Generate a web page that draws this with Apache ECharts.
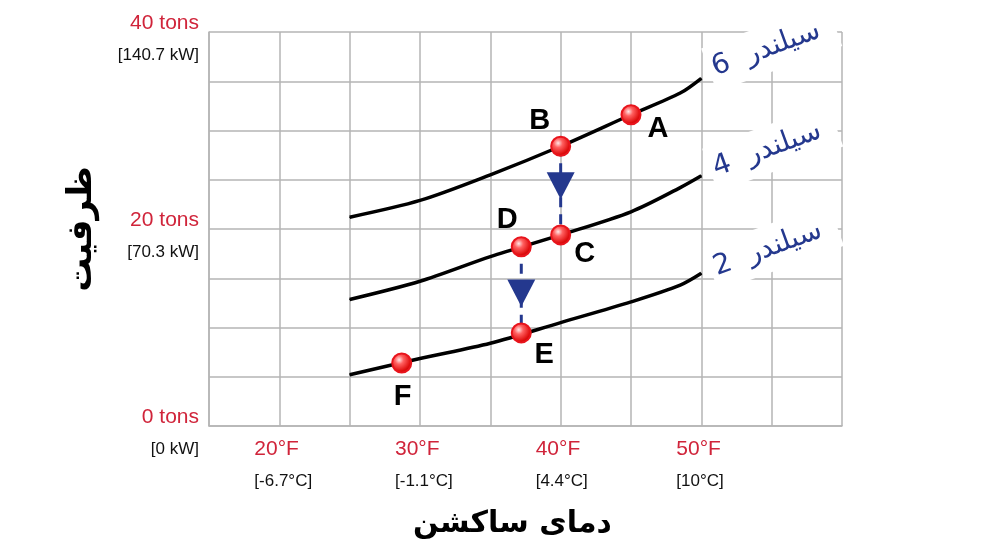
<!DOCTYPE html>
<html>
<head>
<meta charset="utf-8">
<script src="https://cdn.jsdelivr.net/npm/echarts@6/dist/echarts.min.js"></script>
<style>
html,body{margin:0;padding:0;background:#fff;}
#chart{width:1007px;height:560px;}
</style>
</head>
<body>
<div id="chart"></div>
<script>
// ---- data ----
const xTicksF = [20, 30, 40, 50];
const xTicksC = ['[-6.7°C]', '[-1.1°C]', '[4.4°C]', '[10°C]'];
const yTicksTons = [0, 20, 40];
const yTicksKW = ['[0 kW]', '[70.3 kW]', '[140.7 kW]'];

const temps = [25, 30, 35, 40, 45, 48.5, 50];
const cap6 = [21.2, 22.9, 25.5, 28.4, 31.6, 33.8, 35.3];
const cap4 = [12.85, 14.7, 17.2, 19.4, 21.75, 24.2, 25.4];
const cap2 = [5.2, 6.85, 8.4, 10.5, 12.6, 14.3, 15.5];
const cylLabels = ['6  سیلندر', '4  سیلندر', '2  سیلندر'];

const pointNames = ['A', 'B', 'C', 'D', 'E', 'F'];
const pointTemp = [45, 40, 40, 37.2, 37.2, 28.7];
const pointCap = [31.6, 28.4, 19.4, 18.2, 9.45, 6.4];

const arrowFrom = ['B', 'D'];
const arrowTo = ['C', 'E'];
const arrowHeadCap = [24.4, 13.5];

const xTitle = 'دمای ساکشن';
const yTitle = 'ظرفیت';

// ---- styles ----
const RED = '#d0243a';
const BLUE = '#24388e';
const GRID = '#b5b5b5';
const labelOffsets = {A: [27, 14], B: [-21, -25], C: [24, 19], D: [-14, -27], E: [23, 22], F: [1, 34]};
const cylOffsets = [[2, -8], [2, -5], [2, -3]];

function curveSeries(caps, idx) {
  const last = temps.length - 1;
  const data = temps.map((t, i) => {
    const item = {value: [t, caps[i]]};
    if (i === last) {
      item.label = {
        show: true,
        formatter: cylLabels[idx],
        position: 'right',
        distance: 8,
        rotate: 20,
        align: 'left',
        verticalAlign: 'middle',
        offset: cylOffsets[idx],
        color: BLUE,
        fontFamily: 'DejaVu Sans',
        fontSize: 28,
        backgroundColor: '#fff',
        padding: [9, 16, 9, 4]
      };
    }
    return item;
  });
  return {
    type: 'line', data: data, smooth: 0.3, z: 3,
    symbol: 'circle', symbolSize: 1, showSymbol: true, showAllSymbol: true,
    itemStyle: {color: '#000'},
    lineStyle: {color: '#000', width: 3.5}
  };
}

const idx = n => pointNames.indexOf(n);
const arrowSeries = [];
arrowFrom.forEach((f, i) => {
  const a = idx(f), b = idx(arrowTo[i]);
  arrowSeries.push({
    type: 'line', z: 4, symbol: 'none',
    data: [[pointTemp[a], pointCap[a]], [pointTemp[b], pointCap[b]]],
    lineStyle: {color: BLUE, width: 3, type: [10, 7]}
  });
});
arrowSeries.push({
  type: 'scatter', z: 5,
  symbol: 'triangle', symbolRotate: 180, symbolSize: [28, 27],
  itemStyle: {color: BLUE, opacity: 1},
  data: arrowFrom.map((f, i) => [pointTemp[idx(f)], arrowHeadCap[i]])
});

const markerColor = {
  type: 'radial', x: 0.38, y: 0.35, r: 0.7,
  colorStops: [
    {offset: 0, color: '#ffe6e6'},
    {offset: 0.3, color: '#ff6060'},
    {offset: 0.75, color: '#e01010'},
    {offset: 1, color: '#b00000'}
  ]
};

const pointSeries = {
  type: 'scatter', z: 6, symbolSize: 19,
  itemStyle: {color: markerColor, borderColor: '#e8141c', borderWidth: 2, opacity: 1},
  data: pointNames.map((n, i) => ({
    value: [pointTemp[i], pointCap[i]],
    label: {
      show: true, formatter: n, position: 'inside', offset: labelOffsets[n],
      color: '#000', fontFamily: 'Liberation Sans', fontWeight: 'bold', fontSize: 29
    }
  }))
};

const chart = echarts.init(document.getElementById('chart'));
chart.setOption({
  animation: false,
  backgroundColor: '#fff',
  grid: {left: 209, right: 165, top: 32, bottom: 134, containLabel: false},
  xAxis: {
    type: 'value', min: 15, max: 60, interval: 5,
    axisLine: {show: true, lineStyle: {color: GRID, width: 1.5}},
    axisTick: {show: false},
    splitLine: {show: true, lineStyle: {color: GRID, width: 1.5}},
    axisLabel: {
      margin: 7,
      align: 'center',
      formatter: v => {
        const k = xTicksF.indexOf(v);
        return k < 0 ? '' : '{f|' + v + '°F}\n{c|' + xTicksC[k] + '}';
      },
      rich: {
        f: {color: RED, fontSize: 21, fontFamily: 'Liberation Sans', lineHeight: 32, width: 50, align: 'left'},
        c: {color: '#111', fontSize: 17, fontFamily: 'Liberation Sans', lineHeight: 32, width: 50, align: 'left'}
      }
    },
    name: xTitle, nameLocation: 'middle', nameGap: 83,
    nameTextStyle: {color: '#000', fontSize: 30, fontFamily: 'DejaVu Sans', fontWeight: 'bold', padding: [0, 26, 0, 0]}
  },
  yAxis: {
    type: 'value', min: 0, max: 40, interval: 5,
    axisLine: {show: true, lineStyle: {color: GRID, width: 1.5}},
    axisTick: {show: false},
    splitLine: {show: true, lineStyle: {color: GRID, width: 1.5}},
    axisLabel: {
      margin: 10,
      align: 'right',
      padding: [15, 0, 0, 0],
      formatter: v => {
        const k = yTicksTons.indexOf(v);
        return k < 0 ? '' : '{t|' + v + ' tons}\n{k|' + yTicksKW[k] + '}';
      },
      rich: {
        t: {color: RED, fontSize: 21, fontFamily: 'Liberation Sans', lineHeight: 32, align: 'right'},
        k: {color: '#111', fontSize: 17, fontFamily: 'Liberation Sans', lineHeight: 32, align: 'right'}
      }
    },
    name: yTitle, nameLocation: 'middle', nameGap: 110, nameRotate: 90,
    nameTextStyle: {color: '#000', fontSize: 34, fontFamily: 'DejaVu Sans', fontWeight: 'bold'}
  },
  series: [curveSeries(cap6, 0), curveSeries(cap4, 1), curveSeries(cap2, 2)]
    .concat(arrowSeries, [pointSeries])
});
</script>
</body>
</html>
